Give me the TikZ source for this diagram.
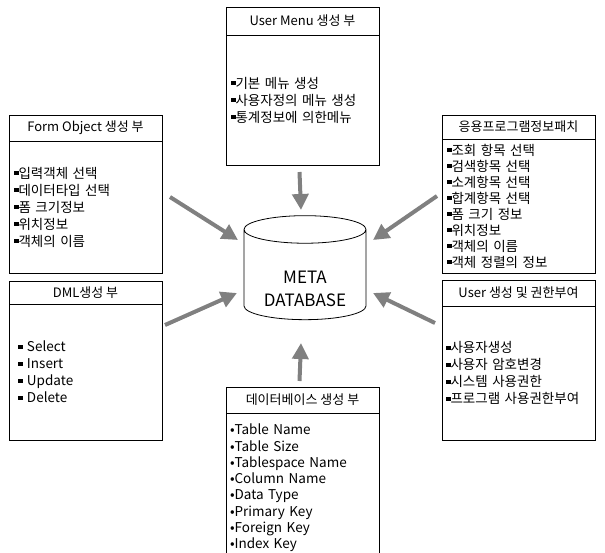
\documentclass[tikz,border=0pt]{standalone}
\usepackage{fontspec}
\setmainfont{Noto Sans CJK KR}
\usetikzlibrary{positioning,shapes.geometric,arrows.meta,calc}
\newcommand{\sqb}{\rule[3pt]{4.5pt}{4pt}}
\begin{document}
\begin{tikzpicture}[x=1pt, y=-1pt,
            >={Triangle[length=16pt,width=16pt]},
            node distance = 0pt,
            head/.style = {draw, line width=0.8pt, outer sep=0pt, minimum width=153pt, minimum height=26pt,
                    inner sep=0pt, anchor=north west, font=\fontsize{13}{15}\selectfont},
            body/.style = {draw, line width=0.8pt, outer sep=0pt, text width=143pt, inner xsep=5pt,
                    align=left, below=of #1, font=\fontsize{13.5}{17}\selectfont},
            feed/.style = {->, line width=4pt, draw=gray},
        ]
        \useasboundingbox (0,0) rectangle (605,552);

        \node[head, minimum height=28pt] (menuh) at (226,7) {User Menu 생성 부};
        \node[body=menuh, minimum height=130pt] (menub)
            {\sqb{}기본 메뉴 생성\\ \sqb{}사용자정의 메뉴 생성\\ \sqb{}통계정보에 의한메뉴};

        \node[head] (formh) at (9,115) {Form Object 생성 부};
        \node[body=formh, minimum height=132pt] (formb)
            {\sqb{}입력객체 선택\\ \sqb{}데이터타입 선택\\ \sqb{}폼 크기정보\\ \sqb{}위치정보\\ \sqb{}객체의 이름};

        \node[head, minimum height=24pt] (apph) at (442,115) {응용프로그램정보패치};
        \node[body=apph, minimum height=134pt, font=\fontsize{13.5}{16}\selectfont] (appb)
            {\sqb{}조회 항목 선택\\ \sqb{}검색항목 선택\\ \sqb{}소계항목 선택\\ \sqb{}합계항목 선택\\
             \sqb{}폼 크기 정보\\ \sqb{}위치정보\\ \sqb{}객체의 이름\\ \sqb{}객체 정렬의 정보};

        \node[head, minimum height=23pt] (dmlh) at (9,281) {DML생성 부};
        \node[body=dmlh, minimum height=136pt, inner xsep=9pt, text width=135pt] (dmlb)
            {\sqb{} Select\\ \sqb{} Insert\\ \sqb{} Update\\ \sqb{} Delete};

        \node[head] (userh) at (442,280) {User 생성 및 권한부여};
        \node[body=userh, minimum height=134pt, inner xsep=4pt, text width=145pt] (userb)
            {\sqb{}사용자생성\\ \sqb{}사용자 암호변경\\ \sqb{}시스템 사용권한\\ \sqb{}프로그램 사용권한부여};

        \node[head] (dbh) at (226,387) {데이터베이스 생성 부};
        \node[body=dbh, minimum height=150pt, inner xsep=4pt, text width=145pt, font=\fontsize{13.5}{16.3}\selectfont] (dbb)
            {•Table Name\\ •Table Size\\ •Tablespace Name\\ •Column Name\\
             •Data Type\\ •Primary Key\\ •Foreign Key\\ •Index Key};

        \node[draw, line width=0.8pt, cylinder, shape border rotate=90, aspect=0.31,
            minimum width=122pt, minimum height=104pt, align=center, text height=59pt,
            font=\fontsize{17}{23}\selectfont] (meta) at (305,277) {META\\DATABASE};

        \draw[feed] ($(menub.south)+(-3,7)$) -- ($(meta.center)+(-4,-67)$);
        \draw[feed] ($(dbh.north)+(-3,-6)$) -- ($(meta.center)+(-4,66)$);
        \draw[feed] ($(formb.east)+(8,-10)$) -- ($(meta.center)+(-67,-37)$);
        \draw[feed] ($(dmlb.north east)+(3,21)$) -- ($(meta.center)+(-68,16)$);
        \draw[feed] ($(appb.west)+(-5,-10)$) -- ($(meta.center)+(68,-37)$);
        \draw[feed] ($(userb.north west)+(-7,17)$) -- ($(meta.center)+(68,16)$);
    \end{tikzpicture}
\end{document}
